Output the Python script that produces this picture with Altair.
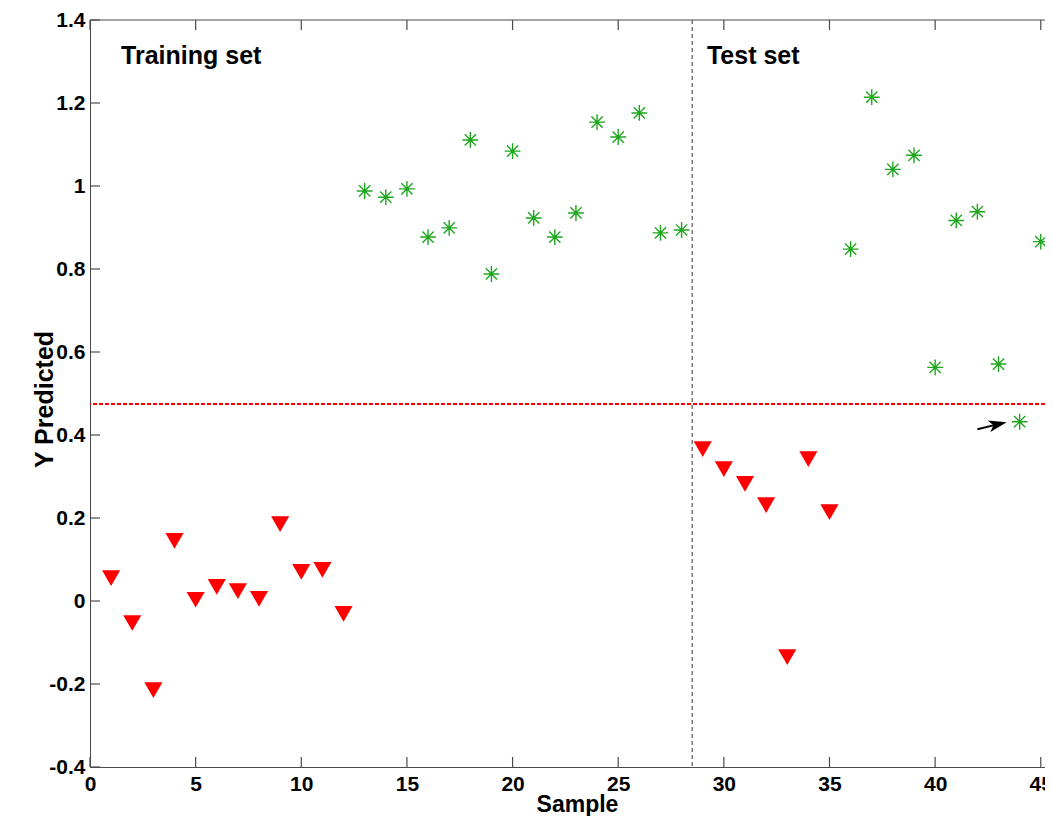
import altair as alt
import pandas as pd

# ---- data ----
train_red_x = list(range(1, 13))
train_red_y = [0.055, -0.053, -0.215, 0.145, 0.003, 0.034, 0.024, 0.005, 0.185, 0.070, 0.075, -0.031]

train_green_x = list(range(13, 29))
train_green_y = [0.988, 0.973, 0.993, 0.877, 0.899, 1.111, 0.788, 1.084,
                 0.923, 0.877, 0.935, 1.154, 1.118, 1.176, 0.887, 0.894]

test_red_x = list(range(29, 36))
test_red_y = [0.366, 0.318, 0.282, 0.231, -0.135, 0.342, 0.214]

test_green_x = list(range(36, 46))
test_green_y = [0.848, 1.214, 1.040, 1.074, 0.563, 0.917, 0.938, 0.571, 0.432, 0.866]

threshold_y = 0.475
split_x = 28.5

arrow_x = [42.0, 42.9]
arrow_y = [0.414, 0.425]
arrow_head_x = [42.97]
arrow_head_y = [0.4258]

label_text = ["Training set", "Test set"]
label_x = [1.47, 29.2]
label_y = [1.294, 1.294]

x_ticks = [0, 5, 10, 15, 20, 25, 30, 35, 40, 45]
y_ticks = [-0.4, -0.2, 0, 0.2, 0.4, 0.6, 0.8, 1, 1.2, 1.4]

X_DOMAIN = [0, 45.2]
Y_DOMAIN = [-0.4, 1.4]
W, H = 955, 747
FONT = "Liberation Sans"
SPINE = "#4a4a4a"

red_df = pd.DataFrame({"x": train_red_x + test_red_x, "y": train_red_y + test_red_y})
green_df = pd.DataFrame({"x": train_green_x + test_green_x, "y": train_green_y + test_green_y})

xs = alt.Scale(domain=X_DOMAIN, nice=False, zero=False)
ys = alt.Scale(domain=Y_DOMAIN, nice=False, zero=False)

xenc = alt.X("x:Q", scale=xs, axis=alt.Axis(
    values=x_ticks, title="Sample", grid=False, ticks=False, tickSize=0,
    labelFont=FONT, labelFontSize=21, labelFontWeight="bold", labelColor="black",
    labelPadding=6, labelFlush=False, labelOverlap=False,
    titleFont=FONT, titleFontSize=23, titleFontWeight="bold", titleColor="black",
    titleX=487, titleY=44, titleBaseline="alphabetic", titleAlign="center",
    domainColor=SPINE, domainWidth=1))

yenc = alt.Y("y:Q", scale=ys, axis=alt.Axis(
    values=y_ticks, title="Y Predicted", grid=False, ticks=False, tickSize=0,
    labelExpr="'' + datum.value",
    labelFont=FONT, labelFontSize=21, labelFontWeight="bold", labelColor="black",
    labelPadding=5, labelFlush=False, labelOverlap=False,
    titleFont=FONT, titleFontSize=25, titleFontWeight="bold", titleColor="black",
    titleX=-38, titleY=379, titleAngle=270, titleBaseline="alphabetic", titleAlign="center",
    domainColor=SPINE, domainWidth=1))

base_axes = alt.Chart(red_df).mark_point(opacity=0).encode(x=xenc, y=yenc)

red = alt.Chart(red_df).mark_point(
    shape="triangle-down", filled=True, color="#ff0000", size=330, opacity=1
).encode(x=alt.X("x:Q", scale=xs), y=alt.Y("y:Q", scale=ys))

asterisk = "M-1,0L1,0M0,-1L0,1M-0.71,-0.71L0.71,0.71M-0.71,0.71L0.71,-0.71"
green = alt.Chart(green_df).mark_point(
    shape=asterisk, filled=False, color="#1fa61f", size=250, strokeWidth=1.4, opacity=1
).encode(x=alt.X("x:Q", scale=xs), y=alt.Y("y:Q", scale=ys))

hline = alt.Chart(pd.DataFrame({"y": [threshold_y]})).mark_rule(
    color="#ff0000", strokeWidth=2, strokeDash=[4, 2]
).encode(y=alt.Y("y:Q", scale=ys))

vline = alt.Chart(pd.DataFrame({"x": [split_x]})).mark_rule(
    color="#333333", strokeWidth=1, strokeDash=[4, 3]
).encode(x=alt.X("x:Q", scale=xs))

arrow_df = pd.DataFrame({"x": [arrow_x[0]], "y": [arrow_y[0]], "x2": [arrow_x[1]], "y2": [arrow_y[1]]})
arrow_line = alt.Chart(arrow_df).mark_rule(color="black", strokeWidth=2).encode(
    x=alt.X("x:Q", scale=xs), y=alt.Y("y:Q", scale=ys), x2="x2:Q", y2="y2:Q")
arrow_head = alt.Chart(pd.DataFrame({"x": arrow_head_x, "y": arrow_head_y})).mark_point(
    shape="M1,0L-1,-0.65L-0.5,0L-1,0.65Z", filled=True, color="black", size=330, angle=347, opacity=1
).encode(x=alt.X("x:Q", scale=xs), y=alt.Y("y:Q", scale=ys))

labels = alt.Chart(pd.DataFrame({"x": label_x, "y": label_y, "t": label_text})).mark_text(
    font=FONT, fontSize=25, fontWeight="bold", color="black", align="left", baseline="alphabetic"
).encode(x=alt.X("x:Q", scale=xs), y=alt.Y("y:Q", scale=ys), text="t:N")

# inward tick marks (MATLAB box style)
xt_df = pd.DataFrame({"x": x_ticks})
yt_df = pd.DataFrame({"y": y_ticks})
xt_bottom = alt.Chart(xt_df).mark_rule(color=SPINE, strokeWidth=1.2).encode(
    x=alt.X("x:Q", scale=xs), y=alt.value(H), y2=alt.value(H - 10))
xt_top = alt.Chart(xt_df).mark_rule(color=SPINE, strokeWidth=1.2).encode(
    x=alt.X("x:Q", scale=xs), y=alt.value(0), y2=alt.value(10))
yt_left = alt.Chart(yt_df).mark_rule(color=SPINE, strokeWidth=1.2).encode(
    y=alt.Y("y:Q", scale=ys), x=alt.value(0), x2=alt.value(10))
top_spine = alt.Chart(pd.DataFrame({"a": [0]})).mark_rule(color=SPINE, strokeWidth=1).encode(
    x=alt.value(0), x2=alt.value(W), y=alt.value(0))

chart = alt.layer(
    base_axes, hline, vline, red, green, arrow_line, arrow_head, labels,
    xt_bottom, xt_top, yt_left, top_spine
).properties(
    width=W, height=H,
    autosize=alt.AutoSizeParams(type="none"),
    padding={"left": 82, "top": 12, "right": 0, "bottom": 49},
    background="white",
).configure_view(stroke=None)

chart.save("out.html", embed_options={"renderer": "svg", "actions": False})
